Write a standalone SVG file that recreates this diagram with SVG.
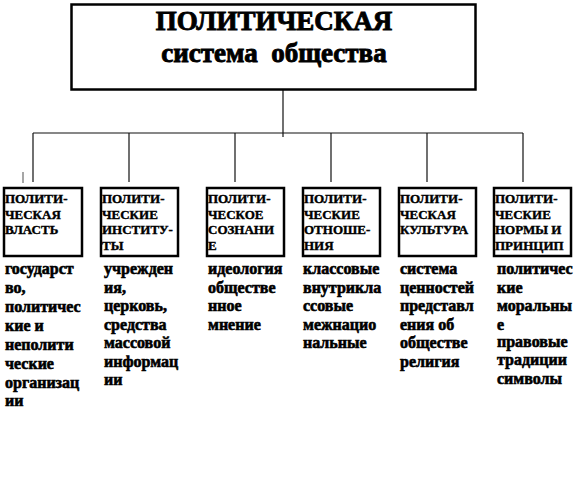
<svg xmlns="http://www.w3.org/2000/svg" width="575" height="483" viewBox="0 0 575 483">
<style>
.box{fill:#fff;stroke:#000;stroke-width:2.5}
.ln{stroke:#111;stroke-width:1.2;fill:none}
text{font-family:"Liberation Serif","Times New Roman",Times,serif;font-weight:bold;fill:#000;stroke:#000}
.title{font-size:27px;text-anchor:middle;stroke-width:0.9}
.lbl{font-size:13px;stroke-width:0.4}
.body{font-size:16px;stroke-width:0.6}
</style>
<rect width="575" height="483" fill="#fff"/>
<g id="connectors">
<line class="ln" x1="283" y1="80" x2="283" y2="137"/>
<line class="ln" x1="33" y1="133" x2="523" y2="133"/>
<line class="ln" x1="33" y1="133" x2="33" y2="182"/>
<line class="ln" x1="129" y1="133" x2="129" y2="182"/>
<line class="ln" x1="235" y1="133" x2="235" y2="182"/>
<line class="ln" x1="331" y1="133" x2="331" y2="182"/>
<line class="ln" x1="427" y1="133" x2="427" y2="182"/>
<line class="ln" x1="523" y1="133" x2="523" y2="182"/>
<line x1="23" y1="172" x2="23" y2="183" stroke="#888" stroke-width="1.5"/>
</g>
<g id="root">
<rect class="box" x="71.5" y="4.5" width="404" height="85" stroke-width="3"/>
<text class="title" x="274" y="30">ПОЛИТИЧЕСКАЯ</text>
<text class="title" x="274" y="62" xml:space="preserve">система  общества</text>
</g>
<g id="n1">
<rect class="box" x="4" y="188" width="78" height="68"/>
<text class="lbl"><tspan x="5" y="203">ПОЛИТИ-</tspan><tspan x="5" y="219">ЧЕСКАЯ</tspan><tspan x="5" y="234">ВЛАСТЬ</tspan></text>
<text class="body"><tspan x="5" y="274">государст</tspan><tspan x="5" y="293">во,</tspan><tspan x="5" y="312">политичес</tspan><tspan x="5" y="331">кие и</tspan><tspan x="5" y="350">неполити</tspan><tspan x="5" y="369">ческие</tspan><tspan x="5" y="388">организац</tspan><tspan x="5" y="406">ии</tspan></text>
</g>
<g id="n2">
<rect class="box" x="101" y="188" width="77" height="68"/>
<text class="lbl"><tspan x="102" y="203">ПОЛИТИ-</tspan><tspan x="102" y="219">ЧЕСКИЕ</tspan><tspan x="102" y="234">ИНСТИТУ-</tspan><tspan x="102" y="250">ТЫ</tspan></text>
<text class="body"><tspan x="104" y="274">учрежден</tspan><tspan x="104" y="292.5">ия,</tspan><tspan x="104" y="311">церковь,</tspan><tspan x="104" y="329.5">средства</tspan><tspan x="104" y="348">массовой</tspan><tspan x="104" y="366.5">информац</tspan><tspan x="104" y="385">ии</tspan></text>
</g>
<g id="n3">
<rect class="box" x="207" y="188" width="77" height="68"/>
<text class="lbl"><tspan x="208" y="203">ПОЛИТИ-</tspan><tspan x="208" y="219">ЧЕСКОЕ</tspan><tspan x="208" y="234">СОЗНАНИ</tspan><tspan x="208" y="250">Е</tspan></text>
<text class="body"><tspan x="208" y="274">идеология</tspan><tspan x="208" y="292.5">обществе</tspan><tspan x="208" y="311">нное</tspan><tspan x="208" y="329.5">мнение</tspan></text>
</g>
<g id="n4">
<rect class="box" x="303" y="188" width="77" height="68"/>
<text class="lbl"><tspan x="304" y="203">ПОЛИТИ-</tspan><tspan x="304" y="219">ЧЕСКИЕ</tspan><tspan x="304" y="234">ОТНОШЕ-</tspan><tspan x="304" y="250">НИЯ</tspan></text>
<text class="body"><tspan x="303" y="274">классовые</tspan><tspan x="303" y="292.5">внутрикла</tspan><tspan x="303" y="311">ссовые</tspan><tspan x="303" y="329.5">межнацио</tspan><tspan x="303" y="348">нальные</tspan></text>
</g>
<g id="n5">
<rect class="box" x="399" y="188" width="77" height="68"/>
<text class="lbl"><tspan x="400" y="203">ПОЛИТИ-</tspan><tspan x="400" y="219">ЧЕСКАЯ</tspan><tspan x="400" y="234">КУЛЬТУРА</tspan></text>
<text class="body"><tspan x="400" y="274">система</tspan><tspan x="400" y="292.5">ценностей</tspan><tspan x="400" y="311">представл</tspan><tspan x="400" y="329.5">ения об</tspan><tspan x="400" y="348">обществе</tspan><tspan x="400" y="366.5">религия</tspan></text>
</g>
<g id="n6">
<rect class="box" x="494" y="188" width="77" height="68"/>
<text class="lbl"><tspan x="495" y="203">ПОЛИТИ-</tspan><tspan x="495" y="219">ЧЕСКИЕ</tspan><tspan x="495" y="234">НОРМЫ И</tspan><tspan x="495" y="250">ПРИНЦИП</tspan></text>
<text class="body"><tspan x="497" y="274">политичес</tspan><tspan x="497" y="292.5">кие</tspan><tspan x="497" y="311">моральны</tspan><tspan x="497" y="329.5">е</tspan><tspan x="497" y="347">правовые</tspan><tspan x="497" y="365">традиции</tspan><tspan x="497" y="384">символы</tspan></text>
</g>
</svg>
